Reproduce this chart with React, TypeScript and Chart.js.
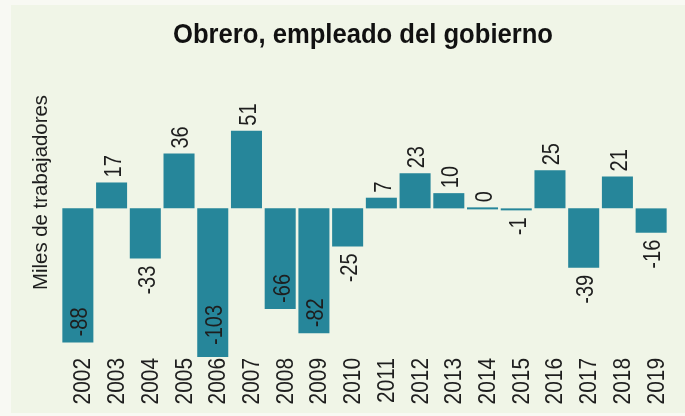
import React, { useEffect, useRef } from "react";
import { Chart, registerables } from "chart.js";

Chart.register(...registerables);

const years = ["2002","2003","2004","2005","2006","2007","2008","2009","2010","2011","2012","2013","2014","2015","2016","2017","2018","2019"];
const values = [-88, 17, -33, 36, -103, 51, -66, -82, -25, 7, 23, 10, 0, -1, 25, -39, 21, -16];
const titleText = "Obrero, empleado del gobierno";
const yAxisLabel = "Miles de trabajadores";

const FONT = '"Liberation Sans", Arial, sans-serif';
const BAR = "#26869a";
const TEXT = "#1e1e1e";
const NARROW = 0.87;

function drawVertical(ctx: CanvasRenderingContext2D, text: string, x: number, y: number, align: CanvasTextAlign, baseline: CanvasTextBaseline, sx: number) {
  ctx.save();
  ctx.translate(x, y);
  ctx.rotate(-Math.PI / 2);
  ctx.scale(sx, 1);
  ctx.textAlign = align;
  ctx.textBaseline = baseline;
  ctx.fillText(text, 0, 0);
  ctx.restore();
}

const labelPlugin = {
  id: "customText",
  afterDatasetsDraw(chart: any) {
    const ctx: CanvasRenderingContext2D = chart.ctx;
    const area = chart.chartArea;
    const meta = chart.getDatasetMeta(0);
    const xScale = chart.scales.x;
    ctx.save();
    ctx.fillStyle = TEXT;
    // value labels
    ctx.font = `23px ${FONT}`;
    meta.data.forEach((el: any, i: number) => {
      const v = values[i];
      const x = el.x + 3;
      if (v >= 0) {
        drawVertical(ctx, String(v), x, Math.min(el.y, el.base) - 5, "left", "middle", NARROW);
      } else if (Math.abs(v) >= 60) {
        const end = Math.min(el.y, area.bottom);
        drawVertical(ctx, String(v), x, end - (el.y > area.bottom ? 12 : 6), "left", "middle", NARROW);
      } else {
        drawVertical(ctx, String(v), x, el.y + 7, "right", "middle", NARROW);
      }
    });
    // x tick labels
    ctx.font = `24px ${FONT}`;
    years.forEach((yr, i) => {
      const px = xScale.getPixelForTick(i);
      drawVertical(ctx, yr, px + 12.5, area.bottom + 1, "right", "alphabetic", NARROW);
    });
    // title
    ctx.font = `bold 28px ${FONT}`;
    ctx.fillStyle = "#111";
    const tw = ctx.measureText(titleText).width;
    const tsx = 380 / tw;
    ctx.save();
    ctx.translate(173, 43.3);
    ctx.scale(tsx, 1);
    ctx.textAlign = "left";
    ctx.textBaseline = "alphabetic";
    ctx.fillText(titleText, 0, 0);
    ctx.restore();
    // y axis label
    ctx.font = `19.5px ${FONT}`;
    ctx.fillStyle = TEXT;
    const yw = ctx.measureText(yAxisLabel).width;
    drawVertical(ctx, yAxisLabel, 47.3, 290, "left", "alphabetic", 195 / yw);
    ctx.restore();
  },
};

export default function App() {
  const ref = useRef<HTMLCanvasElement>(null);
  useEffect(() => {
    if (!ref.current) return;
    const chart = new Chart(ref.current, {
      type: "bar",
      data: {
        labels: years,
        datasets: [
          {
            data: values,
            backgroundColor: BAR,
            borderWidth: 0,
            barPercentage: 0.92,
            categoryPercentage: 1,
            minBarLength: 2,
          },
        ],
      },
      options: {
        responsive: false,
        animation: false,
        devicePixelRatio: 1,
        layout: { padding: { left: 61, right: 17, top: 117, bottom: 12 } },
        plugins: { legend: { display: false }, tooltip: { enabled: false }, title: { display: false } },
        scales: {
          y: { display: false, min: -97.6, max: 60 },
          x: {
            grid: { display: false, drawTicks: false },
            border: { display: false },
            afterFit: (scale: any) => { scale.height = 47; },
            ticks: { display: false, autoSkip: false },
          },
        },
      },
      plugins: [labelPlugin],
    });
    return () => chart.destroy();
  }, []);
  return (
    <div style={{ position: "fixed", left: 0, top: 0, width: 685, height: 416, background: "#f8f9f3" }}>
      <div style={{ position: "absolute", left: 11, top: 5, right: 0, bottom: 3, background: "#f0f5e7" }} />
      <canvas ref={ref} width={685} height={416} style={{ position: "absolute", left: 0, top: 0, width: 685, height: 416 }} />
    </div>
  );
}
